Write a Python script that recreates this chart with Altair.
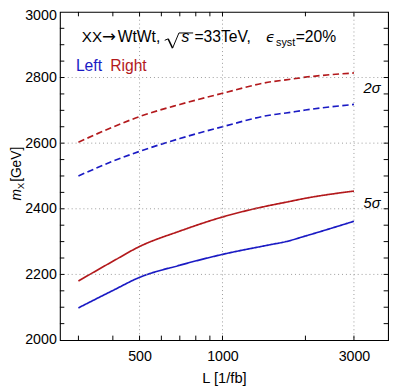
import altair as alt
import pandas as pd

# ---------------- data ----------------
L_vals = [300, 400, 500, 700, 1000, 1500, 1700, 2000, 3000]
right_2s = [2603, 2649, 2681, 2718, 2752, 2787, 2793, 2801, 2814]
left_2s = [2500, 2545, 2575, 2614, 2650, 2686, 2692, 2701, 2718]
right_5s = [2180, 2240, 2285, 2332, 2375, 2411, 2420, 2432, 2454]
left_5s = [2098, 2151, 2191, 2228, 2261, 2291, 2300, 2317, 2362]

sides = ["Left", "Right"]
sigmas = ["2σ", "5σ"]

x_label_values = [500, 1000, 3000]
x_tick_values = [300, 400, 500, 600, 700, 800, 900, 1000, 2000, 3000]
y_label_values = [2000, 2200, 2400, 2600, 2800, 3000]
y_tick_values = list(range(2050, 3000, 50))
x_grid_values = [500, 1000, 3000]
y_grid_values = [2200, 2400, 2600, 2800]

x_domain = [257, 3990]
y_domain = [2000, 3000]

BLUE = "#1a1ac4"
RED = "#b3191c"
FONT = "Liberation Sans"

W, H = 335, 335

rows = []
for side, sig, vals in [("Right", "2σ", right_2s), ("Left", "2σ", left_2s),
                        ("Right", "5σ", right_5s), ("Left", "5σ", left_5s)]:
    for L, m in zip(L_vals, vals):
        rows.append({"L": L, "m": m, "side": side, "sig": sig, "series": side + sig})
df = pd.DataFrame(rows)

xs = alt.Scale(type="log", domain=x_domain, nice=False)
ys = alt.Scale(domain=y_domain, nice=False, zero=False)

x_axis = alt.Axis(
    values=x_label_values, format="d", tickSize=0, domain=False, grid=False,
    labelFont=FONT, labelFontSize=14.5, labelColor="black", labelPadding=9.5,
    title="L [1/fb]", titleFont=FONT, titleFontSize=15, titleFontWeight="normal",
    titleColor="black", titlePadding=8)
y_axis = alt.Axis(
    values=y_label_values, format="d", tickSize=0, domain=False, grid=False,
    labelFont=FONT, labelFontSize=14.5, labelColor="black", labelPadding=3.7,
    labelOffset=alt.condition("datum.value == 3000", alt.value(4), alt.value(0)),
    title=None)


def X(field="L:Q"):
    return alt.X(field, scale=xs, axis=x_axis)


def Y(field="m:Q"):
    return alt.Y(field, scale=ys, axis=y_axis)


lines = alt.Chart(df).mark_line(strokeWidth=1.7, clip=True, interpolate="monotone").encode(
    x=X(), y=Y(),
    color=alt.Color("side:N", scale=alt.Scale(domain=sides, range=[BLUE, RED]), legend=None),
    strokeDash=alt.StrokeDash("sig:N", scale=alt.Scale(domain=sigmas, range=[[6.5, 3.5], [1, 0]]), legend=None),
    detail="series:N",
)

gx = alt.Chart(pd.DataFrame({"L": x_grid_values})).mark_rule(
    color="#9a9a9a", strokeDash=[1, 3], strokeWidth=1).encode(
    x=X(), y=alt.value(0), y2=alt.value(H))
gy = alt.Chart(pd.DataFrame({"m": y_grid_values})).mark_rule(
    color="#9a9a9a", strokeDash=[1, 3], strokeWidth=1).encode(
    y=Y(), x=alt.value(0), x2=alt.value(W))

TL = 4.5
xt_df = pd.DataFrame({"L": x_tick_values})
yt_df = pd.DataFrame({"m": y_tick_values})
tick_bottom = alt.Chart(xt_df).mark_rule(color="black", strokeWidth=1).encode(
    x=X(), y=alt.value(H), y2=alt.value(H - TL))
tick_top = alt.Chart(xt_df).mark_rule(color="black", strokeWidth=1).encode(
    x=X(), y=alt.value(0), y2=alt.value(TL))
tick_left = alt.Chart(yt_df).mark_rule(color="black", strokeWidth=1).encode(
    y=Y(), x=alt.value(0), x2=alt.value(TL))
tick_right = alt.Chart(yt_df).mark_rule(color="black", strokeWidth=1).encode(
    y=Y(), x=alt.value(W), x2=alt.value(W - TL))

# ---------------- annotations (page px -> view px) ----------------
OX, OY = 61, 8
one = pd.DataFrame({"a": [0]})


def txt(s, x, y, size=16, color="black", style="normal", font=FONT, angle=0,
        baseline="alphabetic", align="left"):
    kw = dict(text=s, fontSize=size, color=color, fontStyle=style, font=font,
              align=align, baseline=baseline)
    if angle:
        kw["angle"] = angle
    return alt.Chart(one).mark_text(**kw).encode(x=alt.value(x - OX), y=alt.value(y - OY))


def seg(x1, y1, x2, y2, w=1.0):
    return alt.Chart(one).mark_rule(color="black", strokeWidth=w).encode(
        x=alt.value(x1 - OX), y=alt.value(y1 - OY), x2=alt.value(x2 - OX), y2=alt.value(y2 - OY))


title_parts = ["XX", "→", "WtWt,", "s", "=33TeV,", "ϵ", "syst", "=20%"]
annots = [
    txt(title_parts[0], 83.3, 38.5, size=15.5),
    txt(title_parts[1], 104, 38.5, size=17, font="DejaVu Sans"),
    txt(title_parts[2], 120, 38.5),
    txt(title_parts[3], 185, 38.5, style="italic"),
    txt(title_parts[4], 198.3, 38.5),
    txt(title_parts[5], 271.5, 38.5, style="italic", font="DejaVu Sans", size=15),
    txt(title_parts[6], 281.7, 42.5, size=11),
    txt(title_parts[7], 301.7, 38.5),
    txt("Left", 77.3, 68.3, color=BLUE),
    txt("Right", 112.3, 68.3, color=RED),
    txt("2σ", 371, 91, size=15, style="italic"),
    txt("5σ", 371, 208.5, size=15, style="italic"),
    txt("m", 21.5, 200.5, size=14, style="italic", angle=270),
    txt("X", 24.5, 189, size=10, angle=270),
    txt("[GeV]", 21.5, 181.5, size=14, angle=270),
]
radical = [
    seg(168, 37, 171.5, 35.5, 1.0),
    seg(171.5, 35.5, 176, 45, 1.5),
    seg(176, 45, 182.5, 29.5, 1.0),
    seg(182.5, 29.5, 197, 29.5, 1.0),
]

chart = alt.layer(
    lines, gx, gy, tick_bottom, tick_top, tick_left, tick_right, *radical, *annots
).properties(
    width=W, height=H,
    autosize=alt.AutoSizeParams(type="none"),
    padding={"left": 53, "top": 0, "right": 3, "bottom": 46},
).configure_view(stroke="black", strokeWidth=1.1)

chart.save("out.html", embed_options={"renderer": "svg", "actions": False})
